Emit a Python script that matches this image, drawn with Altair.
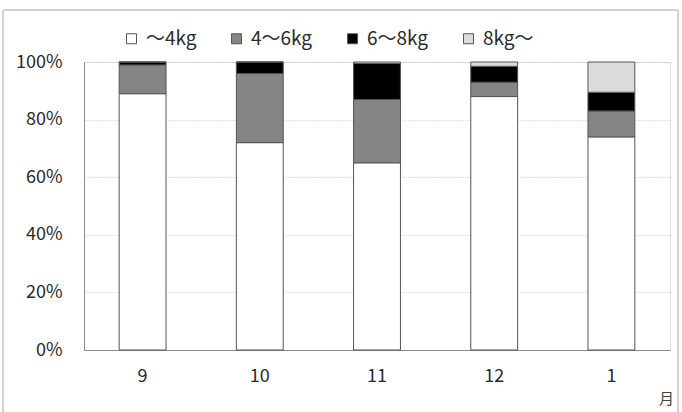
import altair as alt
import pandas as pd

# Monthly share of weight classes (percent of total)
months = ["9", "10", "11", "12", "1"]
classes = ["～4kg", "4～6kg", "6～8kg", "8kg～"]
share_lt4 = [89.0, 72.0, 65.0, 88.0, 74.0]
share_4_6 = [10.0, 24.0, 22.0, 5.0, 9.0]
share_6_8 = [1.0, 4.0, 12.5, 5.5, 6.5]
share_gt8 = [0.0, 0.0, 0.5, 1.5, 10.5]
fills = ["#ffffff", "#858585", "#000000", "#dcdcdc"]

series = [share_lt4, share_4_6, share_6_8, share_gt8]
rows = []
for ci, (cls, vals) in enumerate(zip(classes, series)):
    for m, v in zip(months, vals):
        rows.append({"month": m, "cls": cls, "order": ci, "share": v / 100.0})
df = pd.DataFrame(rows)

font = "Noto Sans CJK JP"

bars = alt.Chart(df).mark_bar(stroke="#555555", strokeWidth=1).encode(
    x=alt.X(
        "month:N",
        sort=months,
        scale=alt.Scale(paddingInner=0.6, paddingOuter=0.3),
        axis=alt.Axis(
            title="月", titleX=582, titleY=48, titleAlign="center",
            titleBaseline="middle", titleFontSize=15, titleFontWeight="normal",
            titleColor="#444444", titleFont=font,
            labelAngle=0, labelFontSize=18, labelColor="#2a2a2a", labelFont=font,
            labelPadding=17, ticks=False, domainColor="#8c8c8c", grid=False,
        ),
    ),
    y=alt.Y(
        "share:Q",
        stack="zero",
        scale=alt.Scale(domain=[0, 1]),
        axis=alt.Axis(
            title=None, format="%", values=[0, 0.2, 0.4, 0.6, 0.8, 1.0],
            labelFontSize=18, labelColor="#2a2a2a", labelFont=font,
            labelPadding=22, ticks=False, domain=True, domainColor="#8c8c8c",
            grid=True, gridColor="#c4c4c4", gridDash=[1, 2],
        ),
    ),
    color=alt.Color(
        "cls:N",
        sort=classes,
        scale=alt.Scale(domain=classes, range=fills),
        legend=alt.Legend(
            title=None, orient="none", legendX=38, legendY=-33,
            direction="horizontal", symbolType="square", symbolSize=100,
            symbolStrokeColor="#555555", symbolStrokeWidth=1,
            labelFontSize=19, labelColor="#2a2a2a", labelFont=font,
            labelOffset=5, columnPadding=30,
        ),
    ),
    order=alt.Order("order:Q", sort="ascending"),
)

# Light frame around the whole chart area
frame = alt.Chart(df).mark_rect(
    fill=None, stroke="#d2d2d2", strokeWidth=1
).encode(
    x=alt.value(-81), x2=alt.value(594), y=alt.value(-52), y2=alt.value(420)
)

chart = (
    alt.layer(frame, bars)
    .properties(width=586, height=288,
                padding={"left": 84, "top": 62, "right": 12, "bottom": 62},
                autosize=alt.AutoSizeParams(type="none"))
    .configure_view(stroke=None)
    .configure(background="white")
)

chart.save("out.html", embed_options={"renderer": "svg", "actions": False})
